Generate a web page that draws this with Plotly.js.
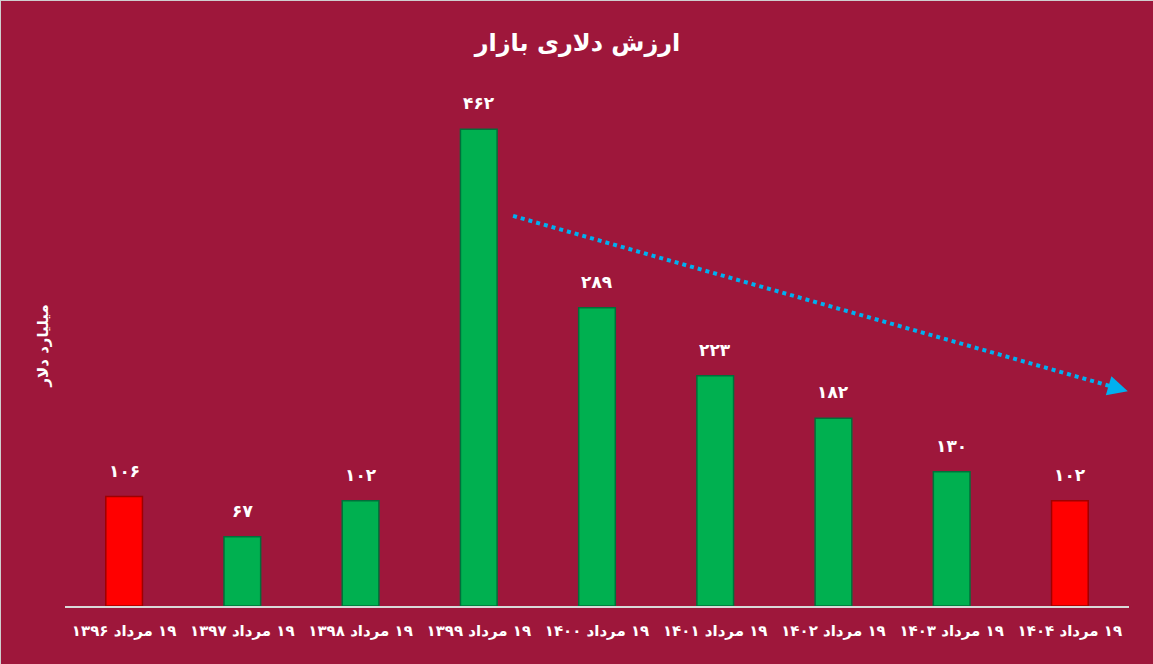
<!DOCTYPE html>
<html>
<head>
<meta charset="utf-8">
<script src="https://cdn.plot.ly/plotly-3.0.1.min.js"></script>
<style>
html,body{margin:0;padding:0;background:#9E173B;}
#chart{width:1153px;height:664px;box-sizing:border-box;border:1px solid #cfcfcf;}
</style>
</head>
<body>
<div id="chart"></div>
<script>
const categories = ["۱۹ مرداد ۱۳۹۶","۱۹ مرداد ۱۳۹۷","۱۹ مرداد ۱۳۹۸","۱۹ مرداد ۱۳۹۹","۱۹ مرداد ۱۴۰۰","۱۹ مرداد ۱۴۰۱","۱۹ مرداد ۱۴۰۲","۱۹ مرداد ۱۴۰۳","۱۹ مرداد ۱۴۰۴"];
const values = [106, 67, 102, 462, 289, 223, 182, 130, 102];
const valueLabels = ["۱۰۶","۶۷","۱۰۲","۴۶۲","۲۸۹","۲۲۳","۱۸۲","۱۳۰","۱۰۲"];
const barColors = ["#FF0000","#00B050","#00B050","#00B050","#00B050","#00B050","#00B050","#00B050","#FF0000"];
const edgeColors = ["#A00000","#00703A","#00703A","#00703A","#00703A","#00703A","#00703A","#00703A","#A00000"];
const trendStart = [3.29, 378];
const trendEnd = [8.49, 208];

const font = "DejaVu Sans, Noto Sans, sans-serif";
const rtl = s => "\u202B" + s + "\u202C";

const trace = {
  type: "bar",
  x: categories,
  y: values,
  marker: {color: barColors, line: {color: edgeColors, width: 1.5}},
  hoverinfo: "skip"
};

const labelAnns = categories.map((c, i) => ({
  x: c, y: values[i], xref: "x", yref: "y",
  text: "<b>" + valueLabels[i] + "</b>",
  showarrow: false, yshift: 26,
  font: {family: font, size: 17, color: "#FFFFFF"}
}));

const layout = {
  width: 1153, height: 664,
  paper_bgcolor: "#9E173B", plot_bgcolor: "#9E173B",
  margin: {l: 64, r: 25, t: 89, b: 59},
  bargap: 0.69,
  showlegend: false,
  title: {text: "<b>" + rtl("ارزش دلاری بازار") + "</b>", x: 0.5, xanchor: "center", y: 0.937, yanchor: "middle",
          font: {family: font, size: 24, color: "#FFFFFF"}},
  xaxis: {type: "category", range: [-0.5, categories.length - 0.5], showline: true, linecolor: "#D9D9D9", linewidth: 2, automargin: false,
          ticks: "", showgrid: false, zeroline: false, ticklabelstandoff: 10,
          tickvals: categories, ticktext: categories.map(rtl),
          tickfont: {family: font, size: 15, color: "#FFFFFF", weight: "bold"}},
  yaxis: {range: [0, 500], visible: false, showgrid: false, zeroline: false, automargin: false},
  shapes: [{type: "line", xref: "x", yref: "y",
            x0: trendStart[0], y0: trendStart[1], x1: trendEnd[0] - 0.1, y1: trendEnd[1] + 3.5,
            line: {color: "#00B0F0", width: 4, dash: "dot"}}],
  annotations: labelAnns.concat([
    {x: trendEnd[0], y: trendEnd[1], ax: trendEnd[0] - 0.15, ay: trendEnd[1] + 5,
     xref: "x", yref: "y", axref: "x", ayref: "y", text: "", showarrow: true,
     arrowhead: 2, arrowsize: 1, arrowwidth: 4, arrowcolor: "#00B0F0"},
    {x: -0.021, y: 0.504, xref: "paper", yref: "paper", text: "<b>" + rtl("میلیارد دلار") + "</b>", textangle: -90,
     showarrow: false, font: {family: font, size: 15, color: "#FFFFFF"}, xanchor: "center", yanchor: "middle"}
  ])
};

Plotly.newPlot("chart", [trace], layout, {displayModeBar: false, staticPlot: true});
</script>
</body>
</html>
